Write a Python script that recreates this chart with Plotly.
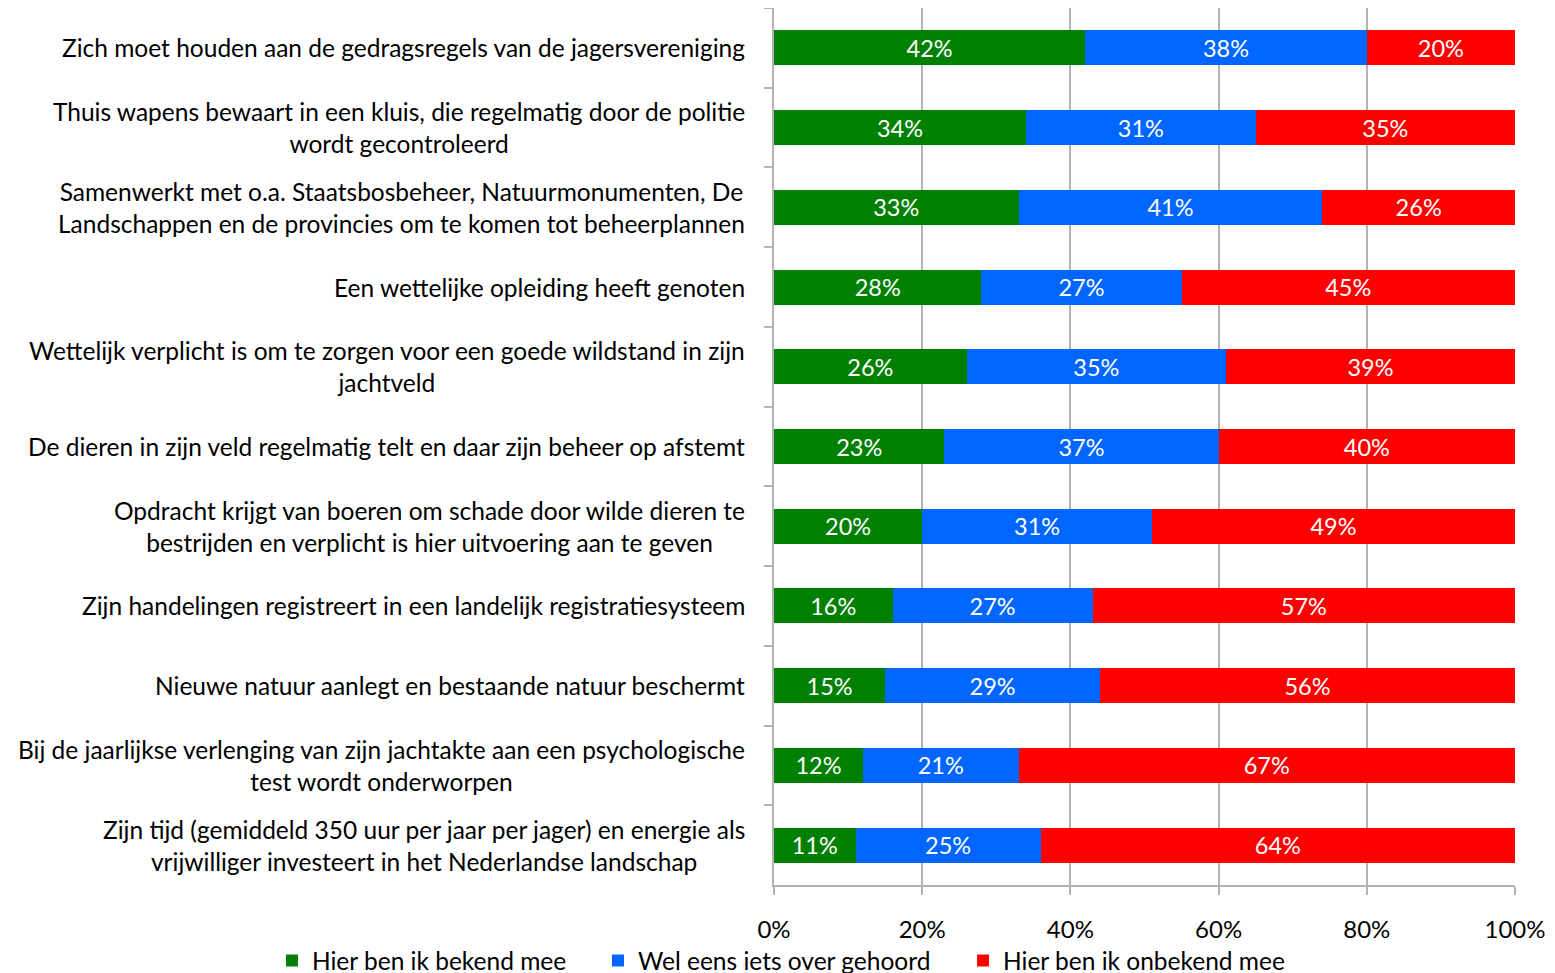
import plotly.graph_objects as go

categories = [
    "Zich moet houden aan de gedragsregels van de jagersvereniging",
    "Thuis wapens bewaart in een kluis, die regelmatig door de politie<br>wordt gecontroleerd",
    "Samenwerkt met o.a. Staatsbosbeheer, Natuurmonumenten, De<br>Landschappen en de provincies om te komen tot beheerplannen",
    "Een wettelijke opleiding heeft genoten",
    "Wettelijk verplicht is om te zorgen voor een goede wildstand in zijn<br>jachtveld",
    "De dieren in zijn veld regelmatig telt en daar zijn beheer op afstemt",
    "Opdracht krijgt van boeren om schade door wilde dieren te<br>bestrijden en verplicht is hier uitvoering aan te geven",
    "Zijn handelingen registreert in een landelijk registratiesysteem",
    "Nieuwe natuur aanlegt en bestaande natuur beschermt",
    "Bij de jaarlijkse verlenging van zijn jachtakte aan een psychologische<br>test wordt onderworpen",
    "Zijn tijd (gemiddeld 350 uur per jaar per jager) en energie als<br>vrijwilliger investeert in het Nederlandse landschap",
]
series_names = ["Hier ben ik bekend mee", "Wel eens iets over gehoord", "Hier ben ik onbekend mee"]
bekend = [42, 34, 33, 28, 26, 23, 20, 16, 15, 12, 11]
gehoord = [38, 31, 41, 27, 35, 37, 31, 27, 29, 21, 25]
onbekend = [20, 35, 26, 45, 39, 40, 49, 57, 56, 67, 64]
x_ticks = [0, 20, 40, 60, 80, 100]
x_tick_labels = ["0%", "20%", "40%", "60%", "80%", "100%"]

colors = ["#008000", "#0066FF", "#FF0000"]
legend_ids = ["legend", "legend2", "legend3"]
legend_x = [-0.6775, -0.2375, 0.2551]
FONT = "Lato"
GRID = "#B3B3B3"

fig = go.Figure()
for name, vals, col, lid in zip(series_names, [bekend, gehoord, onbekend], colors, legend_ids):
    fig.add_trace(go.Bar(
        y=categories, x=vals, name=name, orientation="h",
        marker=dict(color=col, line=dict(width=0)),
        text=[f"{v}%" for v in vals], textposition="inside",
        insidetextanchor="middle", textangle=0,
        textfont=dict(color="white", size=23.5, family=FONT),
        constraintext="none", legend=lid,
    ))

for c in categories:
    fig.add_annotation(
        x=0, xref="paper", y=c, yref="y", text=c, showarrow=False,
        xanchor="right", xshift=-27, align="center",
        font=dict(size=24.5, family=FONT, color="black"),
    )

legend_common = dict(orientation="h", xanchor="left", yref="container", y=0.021,
                     yanchor="middle", font=dict(size=24.5, family=FONT),
                     bgcolor="rgba(0,0,0,0)")
layout_legends = {}
for lid, lx in zip(legend_ids, legend_x):
    layout_legends[lid] = dict(x=lx, **legend_common)

fig.update_layout(
    width=1547, height=973,
    barmode="stack", bargap=0.56,
    plot_bgcolor="white", paper_bgcolor="white",
    margin=dict(l=766, r=40, t=0, b=96),
    font=dict(family=FONT, size=24, color="black"),
    showlegend=True,
    **layout_legends,
)
fig.update_xaxes(
    range=[0, 100], tickvals=x_ticks, ticktext=x_tick_labels,
    showgrid=True, gridcolor=GRID, gridwidth=2,
    showline=True, linecolor=GRID, linewidth=2, mirror=True,
    ticks="outside", ticklen=8, tickcolor=GRID, tickwidth=2,
    ticklabelstandoff=14, zeroline=False, automargin=False,
    tickfont=dict(size=24, family=FONT),
)
fig.update_yaxes(
    autorange="reversed", showticklabels=False,
    showline=True, linecolor=GRID, linewidth=2,
    ticks="outside", ticklen=8, tickcolor=GRID, tickwidth=2,
    tickson="boundaries", showgrid=False, automargin=False,
)

fig.write_html("out.html")
